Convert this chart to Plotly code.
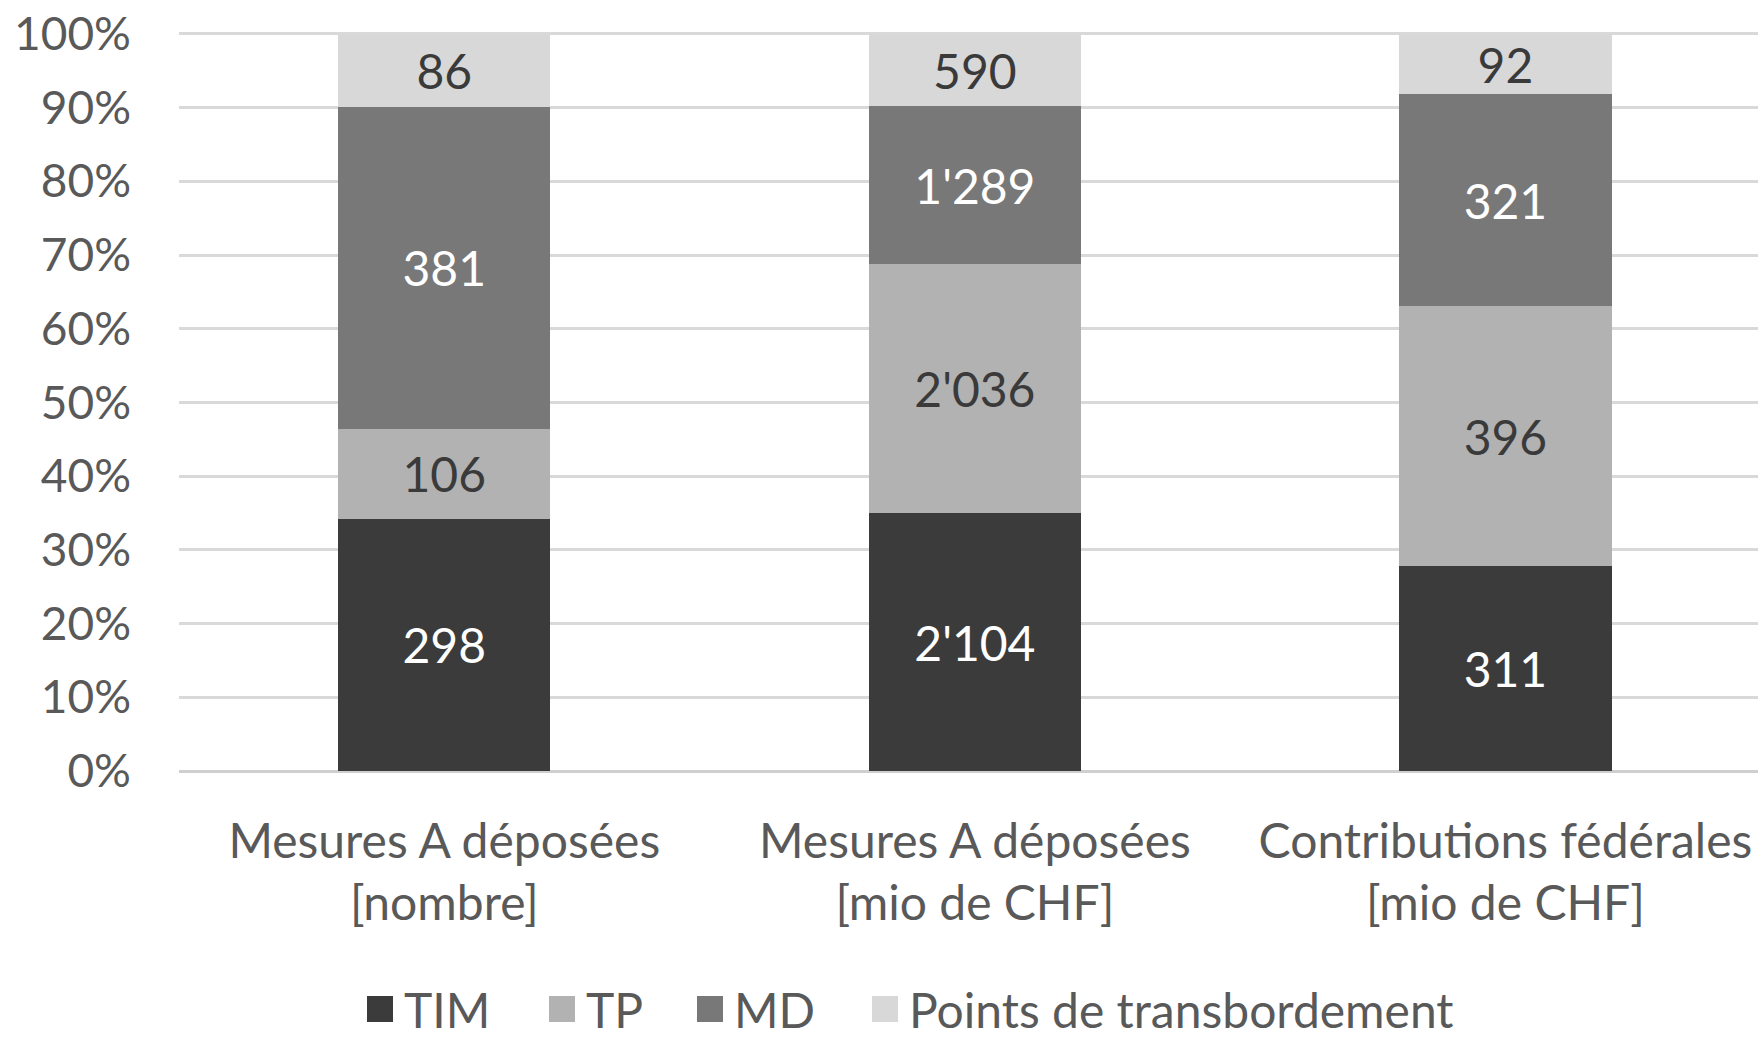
import plotly.graph_objects as go

categories = ["Mesures A déposées<br>[nombre]",
              "Mesures A déposées<br>[mio de CHF]",
              "Contributions fédérales<br>[mio de CHF]"]
series_names = ["TIM", "TP", "MD", "Points de transbordement"]
tim = [298, 2104, 311]
tp = [106, 2036, 396]
md = [381, 1289, 321]
points = [86, 590, 92]
y_tick_vals = [0, 10, 20, 30, 40, 50, 60, 70, 80, 90, 100]
y_tick_text = ["0%", "10%", "20%", "30%", "40%", "50%", "60%", "70%", "80%", "90%", "100%"]

colors = ["#3b3b3b", "#b2b2b2", "#787878", "#d8d8d8"]
text_colors = ["#ffffff", "#3a3a3a", "#ffffff", "#3a3a3a"]
FONT = "Lato"
GREY = "#595959"

def fmt(v):
    return f"{v:,}".replace(",", "'")

fig = go.Figure()
for name, vals, col, tcol in zip(series_names, [tim, tp, md, points], colors, text_colors):
    fig.add_trace(go.Bar(
        x=list(range(len(categories))), y=vals, name=name,
        marker=dict(color=col, line=dict(width=0)),
        text=[fmt(v) for v in vals], textposition="inside",
        insidetextanchor="middle", constraintext="none", textangle=0,
        textfont=dict(family=FONT, size=48, color=tcol),
        width=0.4, hoverinfo="skip", showlegend=False,
    ))

W, H = 1758, 1038
ML, MR, MT, MB = 179, 0, 31, 267
pw, ph = W - ML - MR, H - MT - MB

# manual legend (bigger square keys, like the reference); positions in page px
legend_keys_px = [380, 562, 710, 885]
legend_y_px = 1009
shapes, annos = [], []
for name, col, cx in zip(series_names, colors, legend_keys_px):
    xp = (cx - ML) / pw
    yp = (H - MB - legend_y_px) / ph
    shapes.append(dict(type="rect", xref="paper", yref="paper",
                       xsizemode="pixel", ysizemode="pixel",
                       xanchor=xp, yanchor=yp, x0=-13, x1=13, y0=-13, y1=13,
                       fillcolor=col, line=dict(width=0)))
    annos.append(dict(text=name, xref="paper", yref="paper",
                      x=(cx + 22 - ML) / pw, y=yp, xanchor="left", yanchor="middle",
                      showarrow=False, font=dict(family=FONT, size=48, color=GREY)))

fig.update_layout(
    barmode="stack", barnorm="percent",
    width=W, height=H,
    margin=dict(l=ML, r=MR, t=MT, b=MB, autoexpand=False),
    paper_bgcolor="white", plot_bgcolor="white",
    font=dict(family=FONT, color=GREY, size=44),
    showlegend=False, shapes=shapes, annotations=annos,
)
fig.update_xaxes(
    tickmode="array", tickvals=list(range(len(categories))), ticktext=categories,
    range=[-0.5, 2.476], showgrid=False, showline=False, zeroline=False,
    automargin=False, ticklabelstandoff=38,
    tickfont=dict(family=FONT, size=48, color=GREY),
)
fig.update_yaxes(
    range=[0, 100.4], tickmode="array", tickvals=y_tick_vals, ticktext=y_tick_text,
    showgrid=True, gridcolor="#d9d9d9",
    gridwidth=3, zeroline=True, zerolinecolor="#cfcfcf", zerolinewidth=3,
    showline=False, ticklabelstandoff=47, automargin=False,
    ticklabeloverflow="allow",
    tickfont=dict(family=FONT, size=46, color=GREY),
)

# remove the page's default 8px body margin so the figure fills the window
fig.write_html("out.html", config={"displayModeBar": False},
               post_script="document.body.style.margin='0';")
